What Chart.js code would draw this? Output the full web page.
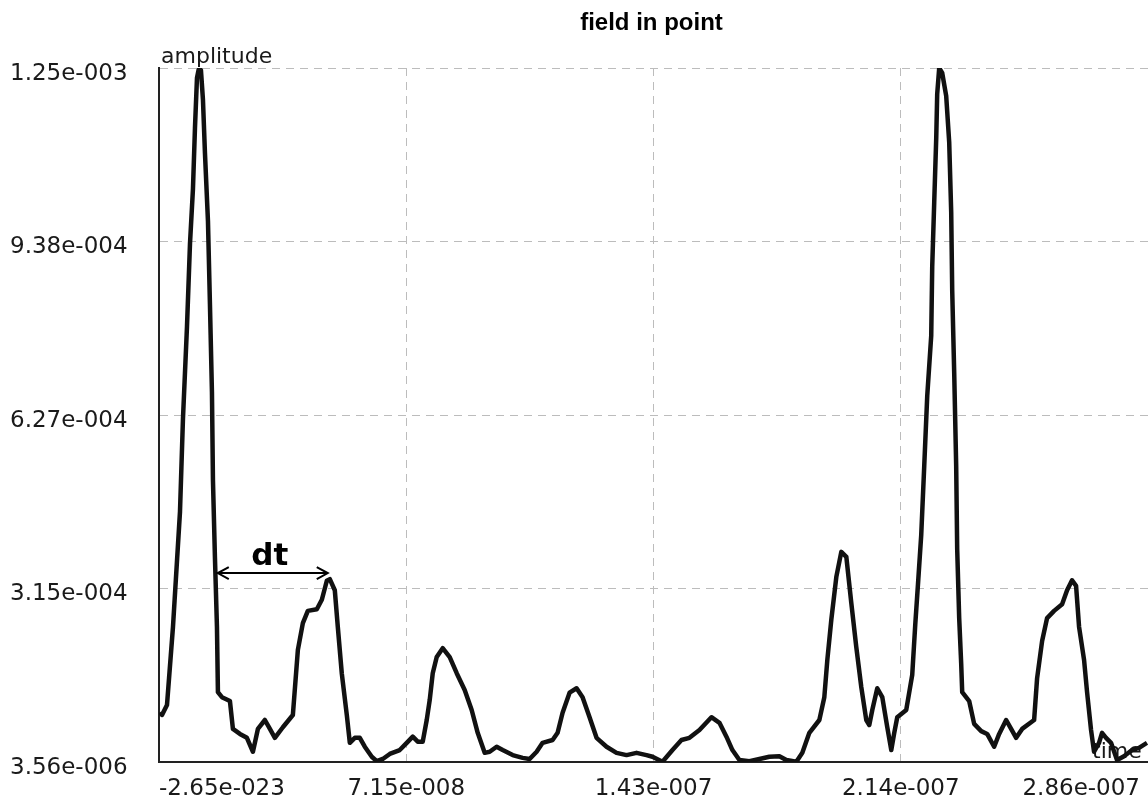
<!DOCTYPE html>
<html>
<head>
<meta charset="utf-8">
<title>field in point</title>
<script src="https://cdn.jsdelivr.net/npm/chart.js@4"></script>
<style>
	html, body { margin: 0; padding: 0; background: #fff; }
	canvas { display: block; }
</style>
</head>
<body>
<canvas id="myChart" width="1148" height="798"></canvas>
<script>
// time in ns, amplitude in 1e-4
const timeNs = [
	0.29, 0.87, 2.31, 4.04, 6.07, 6.93, 8.09, 8.96, 9.82, 10.40,
	10.98, 11.56, 12.13, 12.71, 13.29, 14.16, 14.73, 15.31, 15.60, 16.18,
	16.76, 17.04, 18.20, 20.51, 21.38, 23.40, 25.42, 27.16, 28.60, 30.62,
	32.07, 33.51, 35.82, 38.71, 40.16, 41.60, 43.04, 45.64, 47.09, 48.53,
	49.40, 50.84, 51.71, 52.87, 54.31, 55.18, 56.62, 58.07, 59.51, 61.53,
	62.98, 64.71, 66.73, 69.62, 71.64, 73.38, 74.82, 76.27, 77.42, 78.29,
	79.16, 80.31, 82.04, 84.07, 86.09, 88.40, 90.42, 92.16, 94.18, 95.62,
	97.64, 99.38, 102.27, 105.16, 107.18, 109.20, 110.93, 113.82, 115.27, 116.71,
	118.73, 120.76, 122.49, 124.51, 126.53, 129.42, 132.31, 135.20, 138.09, 140.98,
	142.71, 145.60, 148.49, 151.09, 153.40, 156.29, 159.75, 162.07, 164.09, 165.82,
	167.84, 170.73, 173.62, 176.51, 179.40, 181.42, 184.31, 186.04, 188.07, 190.96,
	192.40, 193.27, 194.42, 195.87, 197.31, 198.76, 200.20, 201.64, 203.09, 204.53,
	205.40, 206.27, 207.71, 209.16, 210.60, 211.76, 212.62, 213.49, 216.09, 217.82,
	218.69, 219.56, 220.42, 221.29, 222.16, 223.31, 223.60, 224.18, 224.76, 225.04,
	225.62, 226.49, 227.64, 228.51, 229.09, 229.38, 229.96, 230.53, 230.82, 231.40,
	231.98, 232.27, 234.29, 235.73, 237.76, 239.49, 241.51, 242.96, 244.98, 246.42,
	247.87, 249.60, 253.07, 253.93, 255.38, 256.82, 258.84, 261.16, 262.60, 264.04,
	265.20, 266.07, 267.51, 268.38, 269.53, 270.40, 271.84, 272.71, 273.87, 275.31,
	277.04, 279.07, 281.38, 283.40, 285.71
];
const amplitudeE4 = [
	0.93, 0.88, 1.06, 2.46, 4.53, 6.20, 7.85, 9.34, 10.33, 11.42,
	12.32, 12.50, 12.46, 11.93, 10.97, 9.75, 8.26, 6.68, 5.10, 3.70,
	2.46, 1.29, 1.20, 1.13, 0.63, 0.54, 0.47, 0.22, 0.63, 0.79,
	0.63, 0.47, 0.66, 0.88, 2.05, 2.53, 2.75, 2.78, 2.95, 3.29,
	3.32, 3.12, 2.46, 1.62, 0.88, 0.38, 0.47, 0.47, 0.31, 0.13,
	0.05, 0.09, 0.18, 0.25, 0.38, 0.49, 0.40, 0.40, 0.79, 1.15,
	1.63, 1.92, 2.08, 1.92, 1.63, 1.33, 0.97, 0.56, 0.20, 0.22,
	0.31, 0.25, 0.16, 0.11, 0.09, 0.22, 0.38, 0.43, 0.56, 0.92,
	1.28, 1.36, 1.20, 0.84, 0.47, 0.31, 0.20, 0.16, 0.20, 0.16,
	0.13, 0.04, 0.25, 0.43, 0.47, 0.61, 0.84, 0.74, 0.49, 0.25,
	0.07, 0.05, 0.09, 0.13, 0.14, 0.07, 0.04, 0.20, 0.56, 0.79,
	1.20, 1.87, 2.59, 3.36, 3.81, 3.72, 2.89, 2.10, 1.38, 0.79,
	0.70, 0.97, 1.36, 1.20, 0.66, 0.25, 0.56, 0.84, 0.97, 1.60,
	2.50, 3.30, 4.11, 5.35, 6.61, 7.69, 8.93, 10.09, 11.24, 12.03,
	12.50, 12.41, 12.00, 11.17, 9.91, 8.51, 7.02, 5.35, 3.86, 2.62,
	1.80, 1.29, 1.13, 0.72, 0.59, 0.54, 0.31, 0.54, 0.79, 0.63,
	0.47, 0.63, 0.79, 1.54, 2.21, 2.62, 2.75, 2.87, 3.12, 3.30,
	3.20, 2.46, 1.87, 1.29, 0.61, 0.22, 0.38, 0.56, 0.47, 0.38,
	0.07, 0.14, 0.25, 0.29, 0.38
];

const xTickValues = [0, 7.15e-8, 1.43e-7, 2.145e-7, 2.86e-7];
const xTickLabels = ['-2.65e-023', '7.15e-008', '1.43e-007', '2.14e-007', '2.86e-007'];
const yTickValues = [3.56e-6, 3.1517e-4, 6.2678e-4, 9.3839e-4, 1.25e-3];
const yTickLabels = ['3.56e-006', '3.15e-004', '6.27e-004', '9.38e-004', '1.25e-003'];

const dtMarker = { fromNs: 17.0, toNs: 48.8, amplitudeE4: 3.43, label: 'dt' };

const points = timeNs.map((t, i) => ({ x: t * 1e-9, y: amplitudeE4[i] * 1e-4 }));

const textPlugin = {
	id: 'fieldText',
	beforeDatasetsDraw(chart) {
		const ctx = chart.ctx;
		const area = chart.chartArea;
		ctx.save();
		ctx.font = '22px "DejaVu Sans"';
		ctx.fillStyle = '#1a1a1a';
		ctx.textAlign = 'left';
		ctx.textBaseline = 'alphabetic';
		ctx.fillText('time', area.right - 56, area.bottom - 4);
		ctx.restore();
	},
	afterDraw(chart) {
		const ctx = chart.ctx;
		const area = chart.chartArea;
		const xs = chart.scales.x;
		const ys = chart.scales.y;
		ctx.save();

		// title
		ctx.font = 'bold 24px "Liberation Sans"';
		ctx.fillStyle = '#000';
		ctx.textAlign = 'center';
		ctx.textBaseline = 'alphabetic';
		ctx.fillText('field in point', (area.left + area.right) / 2 - 2, 30);

		// axis name
		ctx.font = '22px "DejaVu Sans"';
		ctx.fillStyle = '#1a1a1a';
		ctx.textAlign = 'left';
		ctx.fillText('amplitude', area.left + 2, area.top - 5);

		// x tick labels, kept inside the picture
		ctx.font = '23px "DejaVu Sans"';
		for (let i = 0; i < xTickValues.length; i++) {
			let px = xs.getPixelForValue(xTickValues[i]);
			let w = ctx.measureText(xTickLabels[i]).width;
			let left = px - w / 2;
			if (left < area.left) left = area.left;
			if (left + w > chart.width - 8) left = chart.width - 8 - w;
			ctx.fillText(xTickLabels[i], left, area.bottom + 33);
		}

		// dt arrow
		let x0 = xs.getPixelForValue(dtMarker.fromNs * 1e-9);
		let x1 = xs.getPixelForValue(dtMarker.toNs * 1e-9);
		let y = ys.getPixelForValue(dtMarker.amplitudeE4 * 1e-4);
		ctx.strokeStyle = '#000';
		ctx.lineWidth = 2;
		ctx.beginPath();
		ctx.moveTo(x0, y);
		ctx.lineTo(x1, y);
		ctx.moveTo(x0 + 11, y - 6);
		ctx.lineTo(x0, y);
		ctx.lineTo(x0 + 11, y + 6);
		ctx.moveTo(x1 - 11, y - 6);
		ctx.lineTo(x1, y);
		ctx.lineTo(x1 - 11, y + 6);
		ctx.stroke();

		ctx.font = 'bold 31px "DejaVu Sans"';
		ctx.fillStyle = '#000';
		ctx.textAlign = 'center';
		ctx.fillText(dtMarker.label, (x0 + x1) / 2 - 3, y - 8);

		ctx.restore();
	}
};

const ctx1 = document.querySelector('#myChart').getContext('2d');

const chart1 = new Chart(ctx1, {
	type: 'line',
	data: {
		datasets: [{
			data: points,
			borderColor: '#111',
			borderWidth: 4.5,
			borderJoinStyle: 'round',
			pointRadius: 0,
			tension: 0,
			fill: false
		}]
	},
	options: {
		responsive: false,
		animation: false,
		devicePixelRatio: 1,
		layout: {
			padding: { left: 10, top: 68, right: 0, bottom: 0 }
		},
		plugins: {
			legend: { display: false },
			tooltip: { enabled: false },
			title: { display: false }
		},
		scales: {
			x: {
				type: 'linear',
				min: 0,
				max: 2.86e-7,
				afterBuildTicks: scale => {
					scale.ticks = xTickValues.map(v => ({ value: v }));
				},
				afterFit: scale => {
					scale.height = 36;
				},
				ticks: { display: false },
				grid: { color: '#bcbcbc', lineWidth: 1, drawTicks: false },
				border: { display: true, color: '#222', width: 2, dash: [8, 6] }
			},
			y: {
				min: 3.56e-6,
				max: 1.25e-3,
				afterBuildTicks: scale => {
					scale.ticks = yTickValues.map(v => ({ value: v }));
				},
				afterFit: scale => {
					scale.width = 149;
				},
				ticks: {
					crossAlign: 'far',
					labelOffset: 6,
					padding: 0,
					color: '#1a1a1a',
					font: { family: '"DejaVu Sans"', size: 23 },
					callback: (value, index) => yTickLabels[index]
				},
				grid: { color: '#bcbcbc', lineWidth: 1, drawTicks: false },
				border: { display: true, color: '#222', width: 2, dash: [8, 6] }
			}
		}
	},
	plugins: [textPlugin]
});
</script>
</body>
</html>
